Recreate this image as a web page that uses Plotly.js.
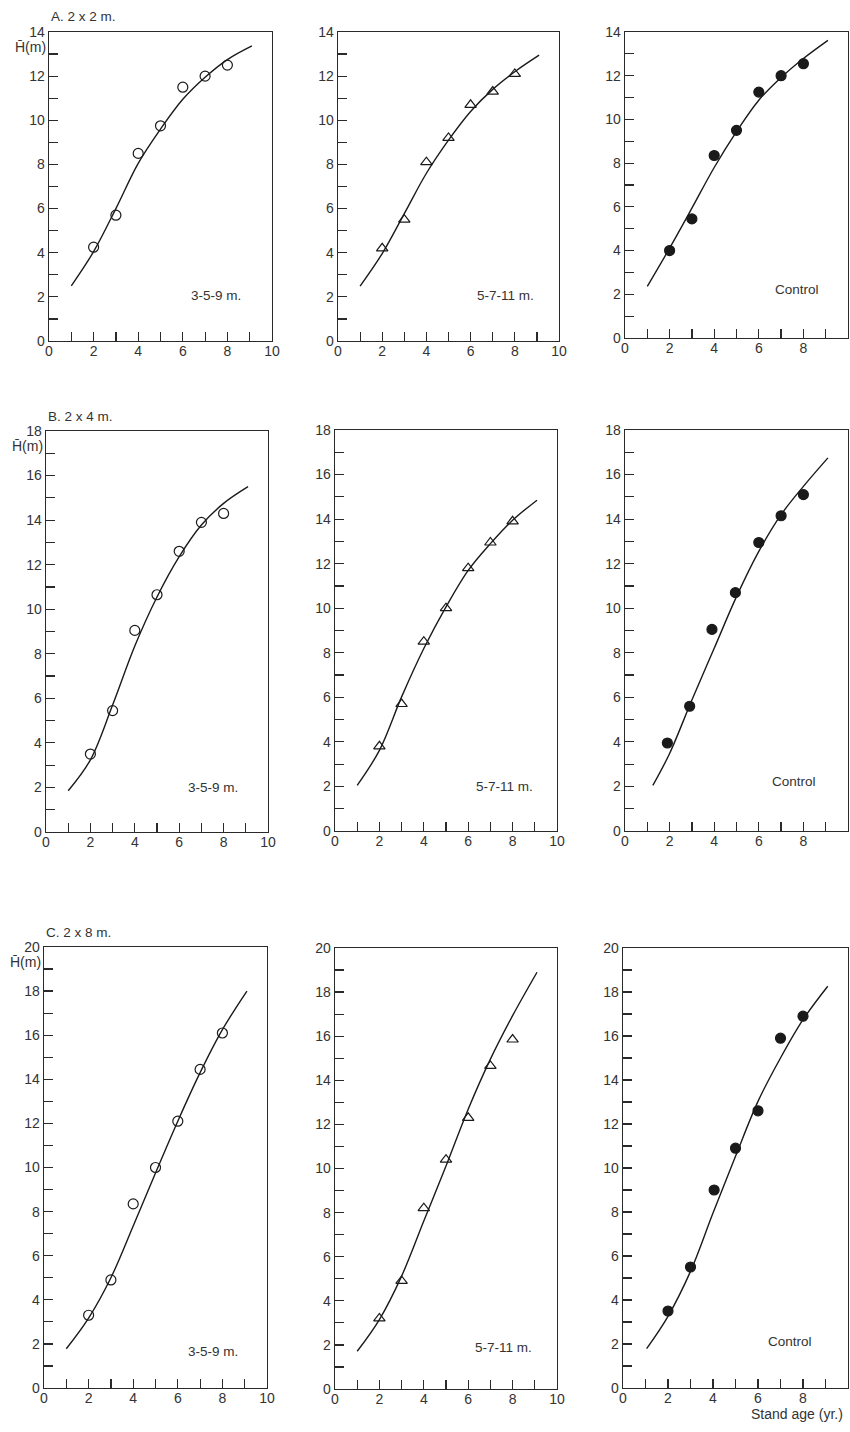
<!DOCTYPE html>
<html>
<head>
<meta charset="utf-8">
<script src="https://cdn.plot.ly/plotly-3.0.1.min.js"></script>
<style>html,body{margin:0;padding:0;background:#fff;}#chart{width:850px;height:1432px;}</style>
</head>
<body>
<div id="chart"></div>
<script>
// ---- Data ----
const rowLabels = ["A. 2 x 2 m.", "B. 2 x 4 m.", "C. 2 x 8 m."];
const treatments = ["3-5-9 m.", "5-7-11 m.", "Control"];
const yMax = [14, 18, 20];

// tick positions (every unit) and labels (even units only)
const xTickVals = [0, 1, 2, 3, 4, 5, 6, 7, 8, 9, 10];
const xTickText = ["0", "", "2", "", "4", "", "6", "", "8", "", "10"];
const yTickValsA = [0, 1, 2, 3, 4, 5, 6, 7, 8, 9, 10, 11, 12, 13, 14];
const yTickTextA = ["0", "", "2", "", "4", "", "6", "", "8", "", "10", "", "12", "", "14"];
const yTickValsB = [0, 1, 2, 3, 4, 5, 6, 7, 8, 9, 10, 11, 12, 13, 14, 15, 16, 17, 18];
const yTickTextB = ["0", "", "2", "", "4", "", "6", "", "8", "", "10", "", "12", "", "14", "", "16", "", "18"];
const yTickValsC = [0, 1, 2, 3, 4, 5, 6, 7, 8, 9, 10, 11, 12, 13, 14, 15, 16, 17, 18, 19, 20];
const yTickTextC = ["0", "", "2", "", "4", "", "6", "", "8", "", "10", "", "12", "", "14", "", "16", "", "18", "", "20"];

const ageObs = [2, 3, 4, 5, 6, 7, 8];
const ageObsB3 = [1.9, 2.9, 3.9, 4.95, 6, 7, 8];
const ageObsC3 = [2, 3, 4.05, 5, 6, 7, 8];

// observed mean heights
const hA359 = [4.25, 5.7, 8.5, 9.75, 11.5, 12.0, 12.5];
const hA5711 = [4.2, 5.5, 8.1, 9.2, 10.7, 11.3, 12.1];
const hACtrl = [4.0, 5.45, 8.35, 9.5, 11.25, 12.0, 12.55];
const hB359 = [3.5, 5.45, 9.05, 10.65, 12.6, 13.9, 14.3];
const hB5711 = [3.8, 5.7, 8.5, 10.0, 11.8, 12.95, 13.9];
const hBCtrl = [3.95, 5.6, 9.05, 10.7, 12.95, 14.15, 15.1];
const hC359 = [3.3, 4.9, 8.35, 10.0, 12.1, 14.45, 16.1];
const hC5711 = [3.2, 4.9, 8.2, 10.4, 12.3, 14.65, 15.85];
const hCCtrl = [3.5, 5.5, 9.0, 10.9, 12.6, 15.9, 16.9];

// fitted curves (read at integer ages + end)
const ageCurve = [1, 2, 3, 4, 5, 6, 7, 8, 9.1];
const ageCurveB3 = [1.25, 2, 3, 4, 5, 6, 7, 8, 9.1];
const ageCurveC3 = [1.05, 2, 3, 4, 5, 6, 7, 8, 9.1];
const cA359 = [2.5, 4.05, 6.0, 8.05, 9.6, 10.95, 11.95, 12.75, 13.37];
const cA5711 = [2.49, 3.96, 5.77, 7.6, 9.1, 10.4, 11.4, 12.2, 12.95];
const cACtrl = [2.36, 4.11, 5.94, 7.8, 9.44, 10.88, 11.92, 12.79, 13.62];
const cB359 = [1.85, 3.24, 5.7, 8.35, 10.55, 12.36, 13.78, 14.75, 15.5];
const cB5711 = [2.05, 3.62, 6.02, 8.19, 10.06, 11.7, 12.9, 13.95, 14.85];
const cBCtrl = [2.05, 3.48, 5.88, 8.2, 10.52, 12.55, 14.2, 15.47, 16.75];
const cC359 = [1.78, 3.17, 5.0, 7.35, 9.75, 12.1, 14.3, 16.25, 18.0];
const cC5711 = [1.71, 3.15, 5.12, 7.62, 10.11, 12.69, 14.96, 16.93, 18.9];
const cCCtrl = [1.79, 3.26, 5.3, 7.95, 10.53, 13.03, 15.0, 16.74, 18.26];

const yTitle = "H\u0304(m)";
const xTitle = "Stand age (yr.)";

// ---- Layout geometry (pixels) ----
const W = 850, H = 1432;
const yTicks = [[yTickValsA, yTickTextA], [yTickValsB, yTickTextB], [yTickValsC, yTickTextC]];
const panels = [
  {obsX: ageObs, obsY: hA359, cX: ageCurve, cY: cA359, sym: "circle-open", row: 0, col: 0, box: [49, 272, 32, 341], lab: [7.5, 2.05]},
  {obsX: ageObs, obsY: hA5711, cX: ageCurve, cY: cA5711, sym: "triangle-up-open", row: 0, col: 1, box: [338, 559, 32, 341], lab: [7.6, 2.05]},
  {obsX: ageObs, obsY: hACtrl, cX: ageCurve, cY: cACtrl, sym: "circle", row: 0, col: 2, box: [625, 848, 32, 338], lab: [7.7, 2.2]},
  {obsX: ageObs, obsY: hB359, cX: ageCurve, cY: cB359, sym: "circle-open", row: 1, col: 0, box: [46, 268, 431, 832], lab: [7.5, 2.0]},
  {obsX: ageObs, obsY: hB5711, cX: ageCurve, cY: cB5711, sym: "triangle-up-open", row: 1, col: 1, box: [335, 557, 430, 831], lab: [7.65, 2.0]},
  {obsX: ageObsB3, obsY: hBCtrl, cX: ageCurveB3, cY: cBCtrl, sym: "circle", row: 1, col: 2, box: [625, 848, 430, 831], lab: [7.6, 2.2]},
  {obsX: ageObs, obsY: hC359, cX: ageCurve, cY: cC359, sym: "circle-open", row: 2, col: 0, box: [44, 267, 947, 1388], lab: [7.6, 1.65]},
  {obsX: ageObs, obsY: hC5711, cX: ageCurve, cY: cC5711, sym: "triangle-up-open", row: 2, col: 1, box: [335, 557, 948, 1389], lab: [7.6, 1.9]},
  {obsX: ageObsC3, obsY: hCCtrl, cX: ageCurveC3, cY: cCCtrl, sym: "circle", row: 2, col: 2, box: [623, 848, 948, 1388], lab: [7.4, 2.1]}
];

const FONT = "Liberation Sans, Arial, sans-serif";
const INK = "#2a2a2a";
const data = [];
const layout = {
  width: W, height: H,
  margin: {l: 0, r: 0, t: 0, b: 0},
  paper_bgcolor: "#ffffff", plot_bgcolor: "#ffffff",
  showlegend: false,
  font: {family: FONT, size: 14, color: "#333"},
  annotations: []
};

panels.forEach((p, i) => {
  const n = i + 1;
  const xa = n === 1 ? "x" : "x" + n;
  const ya = n === 1 ? "y" : "y" + n;
  const [x0, x1, y0, y1] = p.box;
  const axCommon = {
    showgrid: false, zeroline: false, showline: true, mirror: true,
    linecolor: INK, linewidth: 1.3,
    ticks: "inside", ticklen: 9, tickwidth: 1.2, tickcolor: INK,
    tickmode: "array",
    tickfont: {family: FONT, size: 14, color: "#333"},
    fixedrange: true
  };
  layout["xaxis" + (n === 1 ? "" : n)] = Object.assign({}, axCommon, {
    domain: [x0 / W, x1 / W], range: [0, 10], anchor: ya,
    tickvals: xTickVals, ticktext: xTickText, ticklabelstandoff: -3
  });
  layout["yaxis" + (n === 1 ? "" : n)] = Object.assign({}, axCommon, {
    domain: [1 - y1 / H, 1 - y0 / H], range: [0, yMax[p.row]], anchor: xa,
    tickvals: yTicks[p.row][0], ticktext: yTicks[p.row][1]
  });
  data.push({
    x: p.cX, y: p.cY, xaxis: xa, yaxis: ya, type: "scatter", mode: "lines",
    line: {color: "#1a1a1a", width: 1.4, shape: "spline", smoothing: 1},
    hoverinfo: "skip"
  });
  data.push({
    x: p.obsX, y: p.obsY, xaxis: xa, yaxis: ya, type: "scatter", mode: "markers",
    marker: {
      symbol: p.sym, size: 10, color: "#1a1a1a",
      line: {color: "#1a1a1a", width: 1.2}
    }
  });
  layout.annotations.push({
    xref: xa, yref: ya, x: p.lab[0], y: p.lab[1], text: treatments[p.col],
    showarrow: false, font: {family: FONT, size: 13.5, color: "#333"}
  });
  if (p.col === 0) {
    layout.annotations.push({
      xref: "paper", yref: "paper", x: (x0) / W, y: 1 - (y0 - 15) / H,
      xanchor: "left", yanchor: "middle", text: rowLabels[p.row],
      showarrow: false, font: {family: FONT, size: 13.5, color: "#333"}
    });
    layout.annotations.push({
      xref: "paper", yref: "paper", x: (x0 - 1) / W, y: 1 - (y0 + 15) / H,
      xanchor: "right", yanchor: "middle", text: yTitle,
      showarrow: false, font: {family: FONT, size: 14, color: "#333"}
    });
  }
  if (n === 9) {
    layout.annotations.push({
      xref: "paper", yref: "paper", x: 845 / W, y: 1 - 1414 / H,
      xanchor: "right", yanchor: "middle", text: xTitle,
      showarrow: false, font: {family: FONT, size: 14, color: "#333"}
    });
  }
});

Plotly.newPlot("chart", data, layout, {staticPlot: true, displayModeBar: false});
</script>
</body>
</html>
